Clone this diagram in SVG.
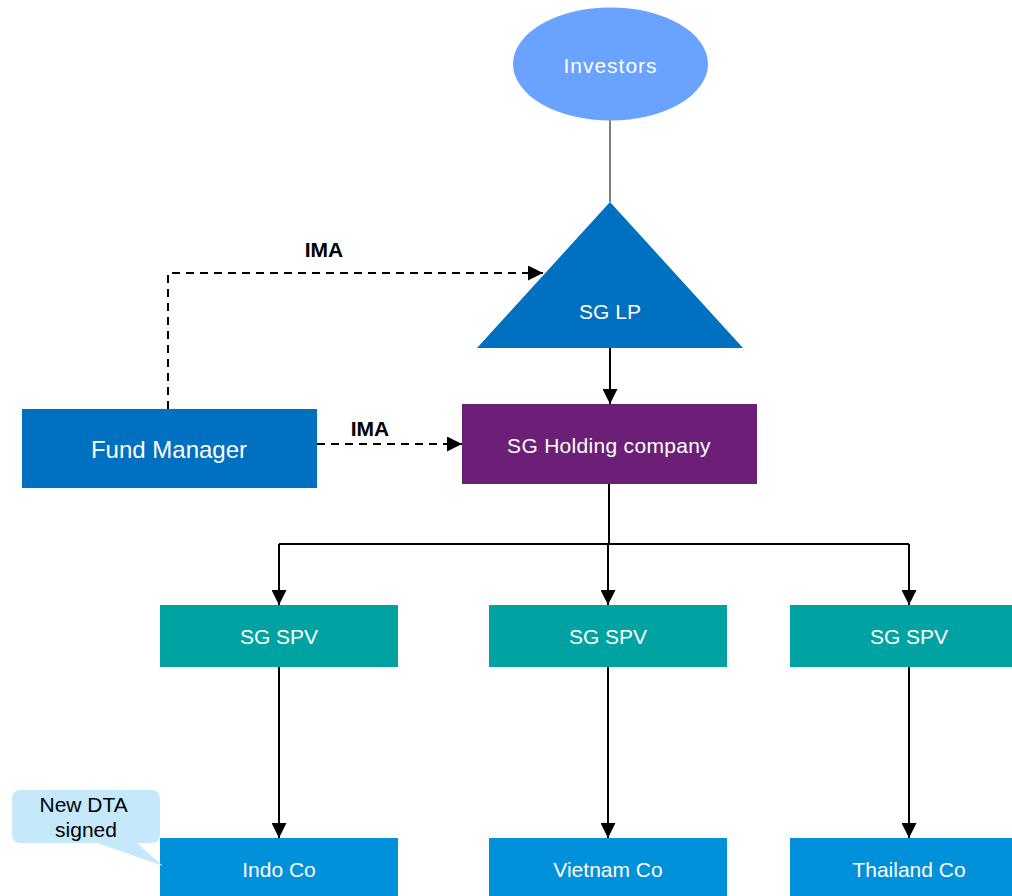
<svg xmlns="http://www.w3.org/2000/svg" width="1012" height="896" viewBox="0 0 1012 896">
  <style>
    .lbl { font-family: "Liberation Sans", Arial, sans-serif; font-size: 21px; fill: #ffffff; text-anchor: middle; dominant-baseline: central; }
    .big { font-size: 24px; }
    .ima { font-family: "Liberation Sans", Arial, sans-serif; font-weight: bold; font-size: 21px; fill: #000000; text-anchor: middle; }
    .solid { stroke: #000000; stroke-width: 2; fill: none; }
    .dash { stroke: #000000; stroke-width: 2; fill: none; stroke-dasharray: 8 6; }
    .spv { fill: #00A3A1; }
    .co { fill: #0091DA; }
  </style>
  <defs>
    <marker id="arrow" viewBox="0 0 10 10" refX="10" refY="5" markerWidth="7.5" markerHeight="7.5" markerUnits="strokeWidth" orient="auto">
      <path d="M0,0 L10,5 L0,10 Z" fill="#000000"/>
    </marker>
  </defs>

  <rect width="1012" height="896" fill="#ffffff"/>

  <!-- connectors -->
  <g id="connectors">
    <line x1="610" y1="120" x2="610" y2="202" stroke="#000000" stroke-width="1"/>
    <line class="solid" x1="610" y1="348" x2="610" y2="404" marker-end="url(#arrow)"/>
    <polyline class="dash" points="168,409 168,273 543,273" marker-end="url(#arrow)"/>
    <line class="dash" x1="317" y1="444" x2="462" y2="444" marker-end="url(#arrow)"/>
    <line class="solid" x1="609" y1="484" x2="609" y2="544"/>
    <polyline class="solid" points="279,544 909,544"/>
    <line class="solid" x1="279" y1="544" x2="279" y2="605" marker-end="url(#arrow)"/>
    <line class="solid" x1="608" y1="544" x2="608" y2="605" marker-end="url(#arrow)"/>
    <line class="solid" x1="909" y1="544" x2="909" y2="605" marker-end="url(#arrow)"/>
    <line class="solid" x1="279" y1="667" x2="279" y2="838" marker-end="url(#arrow)"/>
    <line class="solid" x1="608" y1="667" x2="608" y2="838" marker-end="url(#arrow)"/>
    <line class="solid" x1="909" y1="667" x2="909" y2="838" marker-end="url(#arrow)"/>
    <text class="ima" x="324" y="257">IMA</text>
    <text class="ima" x="370" y="436">IMA</text>
  </g>

  <g id="investors">
    <ellipse cx="610.5" cy="64" rx="97.5" ry="56.5" fill="#6AA3FF"/>
    <text class="lbl" x="610.5" y="65" letter-spacing="1">Investors</text>
  </g>

  <g id="sg-lp">
    <polygon points="610,202 743,348 477,348" fill="#0070C0"/>
    <text class="lbl" x="610" y="311">SG LP</text>
  </g>

  <g id="fund-manager">
    <rect x="22" y="409" width="295" height="79" fill="#0070C0"/>
    <text class="lbl big" x="169" y="449">Fund Manager</text>
  </g>

  <g id="sg-holding">
    <rect x="462" y="404" width="295" height="80" fill="#6C1F77"/>
    <text class="lbl" x="609" y="445" letter-spacing="0.3">SG Holding company</text>
  </g>

  <g id="spv-indo">
    <rect class="spv" x="160" y="605" width="238" height="62"/>
    <text class="lbl" x="279" y="636">SG SPV</text>
  </g>
  <g id="spv-vietnam">
    <rect class="spv" x="489" y="605" width="238" height="62"/>
    <text class="lbl" x="608" y="636">SG SPV</text>
  </g>
  <g id="spv-thailand">
    <rect class="spv" x="790" y="605" width="222" height="62"/>
    <text class="lbl" x="909" y="636">SG SPV</text>
  </g>

  <g id="indo-co">
    <rect class="co" x="160" y="838" width="238" height="58"/>
    <text class="lbl" x="279" y="869">Indo Co</text>
  </g>
  <g id="vietnam-co">
    <rect class="co" x="489" y="838" width="238" height="58"/>
    <text class="lbl" x="608" y="869">Vietnam Co</text>
  </g>
  <g id="thailand-co">
    <rect class="co" x="790" y="838" width="222" height="58"/>
    <text class="lbl" x="909" y="869">Thailand Co</text>
  </g>

  <g id="dta-callout">
    <path d="M21,790 H151 Q160,790 160,799 V834 Q160,843 151,843 H137 L163,866 L97,843 H21 Q12,843 12,834 V799 Q12,790 21,790 Z" fill="#C5E9FB"/>
    <text font-family="Liberation Sans, Arial, sans-serif" font-size="21" fill="#000000" text-anchor="middle">
      <tspan x="86" y="812">New DTA</tspan>
      <tspan x="86" y="837">signed</tspan>
    </text>
  </g>
</svg>
